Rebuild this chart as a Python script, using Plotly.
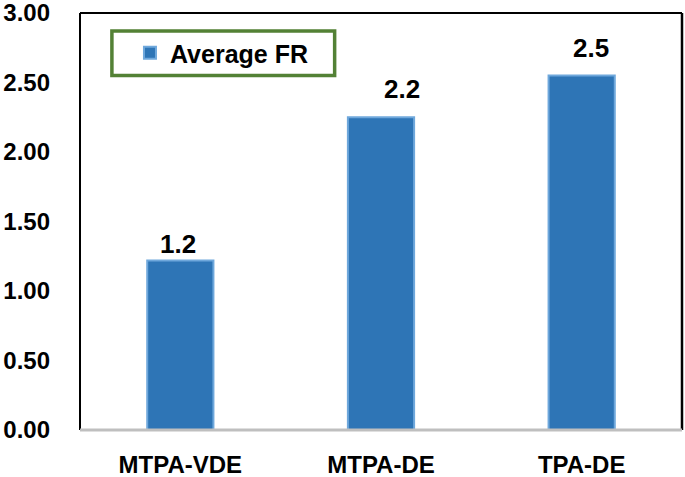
import plotly.graph_objects as go

categories = ["MTPA-VDE", "MTPA-DE", "TPA-DE"]
values = [1.22, 2.25, 2.55]
value_labels = ["1.2", "2.2", "2.5"]
tick_vals = [0, 0.5, 1.0, 1.5, 2.0, 2.5, 3.0]
tick_text = ["0.00", "0.50", "1.00", "1.50", "2.00", "2.50", "3.00"]

# label offsets (px) as placed in the original chart
label_dx = [-2, 21, 9]
label_dy = [16, 28, 28]

FONT = "Liberation Sans, Arial, sans-serif"

fig = go.Figure()
fig.add_trace(go.Bar(
    x=categories, y=values, name="<b>Average FR</b>",
    marker=dict(color="#2E75B6", line=dict(color="#6FA8DC", width=2)),
    width=0.33,
))

for c, v, t, dx, dy in zip(categories, values, value_labels, label_dx, label_dy):
    fig.add_annotation(x=c, y=v, text="<b>%s</b>" % t, showarrow=False,
                       xshift=dx, yshift=dy, yanchor="middle", xanchor="center",
                       font=dict(size=26, color="black", family=FONT))

fig.update_layout(
    width=685, height=477,
    margin=dict(l=80, r=3, t=13, b=47),
    plot_bgcolor="white", paper_bgcolor="white",
    font=dict(family=FONT, color="black"),
    showlegend=True,
    legend=dict(x=0.083, y=0.959, xanchor="left", yanchor="top",
                bgcolor="rgba(0,0,0,0)", borderwidth=0,
                font=dict(size=25, family=FONT, color="black")),
    xaxis=dict(showline=False, showgrid=False, ticks="", automargin=False,
               tickfont=dict(size=24, family=FONT, color="black"),
               tickprefix="<b>", ticksuffix="</b>", ticklabelstandoff=18),
    yaxis=dict(range=[0, 3.0005], tickvals=tick_vals, ticktext=["<b>%s</b>" % t for t in tick_text],
               showgrid=False, showline=False, ticks="", zeroline=False, automargin=False,
               ticklabeloverflow="allow",
               tickfont=dict(size=24, family=FONT, color="black"), ticklabelstandoff=29),
)

# Plot frame
fig.add_shape(type="line", xref="paper", yref="paper", x0=0, x1=0, y0=0, y1=1,
              line=dict(color="black", width=2))
fig.add_shape(type="line", xref="paper", yref="paper", x0=0, x1=1, y0=1, y1=1,
              line=dict(color="black", width=2))
fig.add_shape(type="line", xref="paper", yref="paper", x0=1, x1=1, y0=0, y1=1,
              line=dict(color="black", width=2.5))
fig.add_shape(type="line", xref="paper", yref="paper", x0=0, x1=1, y0=0, y1=0,
              line=dict(color="#BFBFBF", width=3))
# Legend box
fig.add_shape(type="rect", xref="paper", yref="paper", x0=0.053, x1=0.423, y0=0.85, y1=0.957,
              line=dict(color="#538135", width=3.5), fillcolor="rgba(0,0,0,0)")

fig.write_html("out.html", config={"displayModeBar": False},
               post_script="document.body.style.margin='0';document.body.style.overflow='hidden';")
